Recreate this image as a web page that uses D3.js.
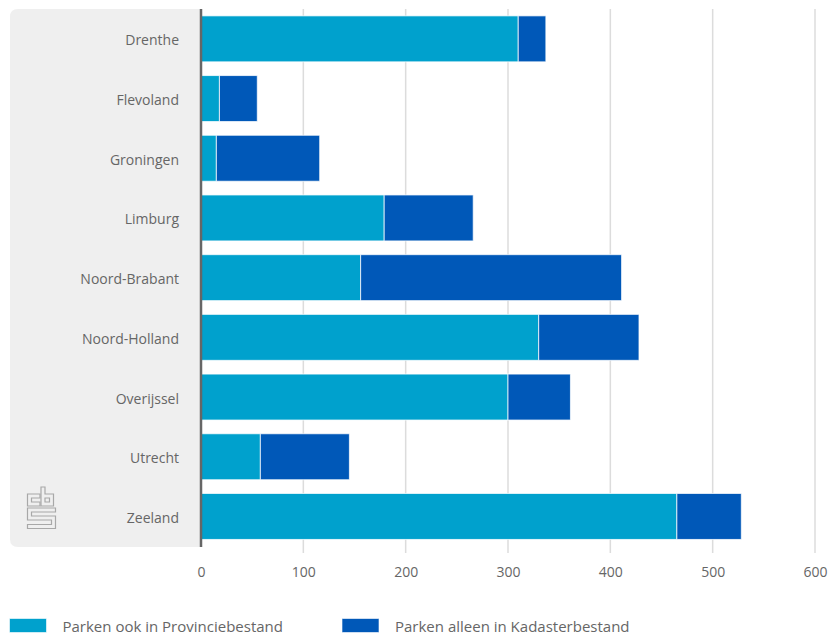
<!DOCTYPE html>
<html>
<head>
<meta charset="utf-8">
<script src="https://cdn.jsdelivr.net/npm/d3@7"></script>
<style>
  html, body { margin: 0; padding: 0; background: #fff; }
  svg { display: block; font-family: "Open Sans", "Noto Sans", sans-serif; }
</style>
</head>
<body>
<svg id="chart" width="828" height="637"></svg>
<script>
const provinces = ["Drenthe", "Flevoland", "Groningen", "Limburg", "Noord-Brabant", "Noord-Holland", "Overijssel", "Utrecht", "Zeeland"];
const provincieValues = [310, 18, 15, 179, 156, 330, 300, 58, 465];
const kadasterValues = [27, 37, 101, 87, 255, 98, 61, 87, 63];
const seriesNames = ["Parken ook in Provinciebestand", "Parken alleen in Kadasterbestand"];
const xTicks = [0, 100, 200, 300, 400, 500, 600];

const colors = ["#00a1cd", "#0058b8"];
const svg = d3.select("#chart");

const plot = { left: 201, right: 815, top: 9, bottom: 546.3 };
const x = d3.scaleLinear().domain([0, 600]).range([plot.left, plot.right]);
const y = d3.scaleBand().domain(provinces).range([plot.top, plot.bottom])
  .paddingInner(0.23).paddingOuter(0.115);

// grey label panel
svg.append("path")
  .attr("d", (() => {
    const x0 = 10, x1 = plot.left, y0 = plot.top, y1 = 547, r = 8;
    return `M${x1},${y0} L${x0 + r},${y0} Q${x0},${y0} ${x0},${y0 + r} L${x0},${y1 - r} Q${x0},${y1} ${x0 + r},${y1} L${x1},${y1} Z`;
  })())
  .attr("fill", "#efefef");

// gridlines
svg.append("g").selectAll("line").data(xTicks.slice(1)).join("line")
  .attr("x1", d => x(d)).attr("x2", d => x(d))
  .attr("y1", plot.top).attr("y2", 553)
  .attr("stroke", "#dcdcdc").attr("stroke-width", 1.5);

// x axis labels
const xAxis = d3.axisBottom(x).tickValues(xTicks).tickSize(0).tickPadding(0);
const gx = svg.append("g").attr("transform", `translate(0,${567})`).call(xAxis);
gx.select(".domain").remove();
gx.selectAll("text").attr("fill", "#666").attr("font-size", "14px")
  .attr("font-family", "Open Sans, sans-serif").attr("dy", "0.71em");

// stacked bars
const rows = provinces.map((p, i) => ({ p, a: provincieValues[i], b: kadasterValues[i] }));
const stack = d3.stack().keys(["a", "b"])(rows);
svg.append("g").selectAll("g").data(stack).join("g")
  .attr("fill", (d, i) => colors[i])
  .selectAll("rect").data(d => d).join("rect")
  .attr("x", d => x(d[0]))
  .attr("y", d => y(d.data.p))
  .attr("width", d => x(d[1]) - x(d[0]))
  .attr("height", y.bandwidth())
  .attr("stroke", "rgba(255,255,255,0.75)").attr("stroke-width", 1);

// y axis line
svg.append("line")
  .attr("x1", plot.left).attr("x2", plot.left)
  .attr("y1", plot.top).attr("y2", 547)
  .attr("stroke", "#666").attr("stroke-width", 2.5);

// category labels
const yAxis = d3.axisLeft(y).tickSize(0).tickPadding(22);
const gy = svg.append("g").attr("transform", `translate(${plot.left},2)`).call(yAxis);
gy.select(".domain").remove();
gy.selectAll("text").attr("fill", "#666").attr("font-size", "14px")
  .attr("font-family", "Open Sans, sans-serif");

// CBS logo (outlined letters)
const logo = svg.append("g").attr("fill", "none").attr("stroke", "#a8a8a8").attr("stroke-width", 1.2);
logo.append("path").attr("d",
  "M27.5,494 H40 V498 H31.5 V502 H40 V506 H27.5 Z");
logo.append("path").attr("d",
  "M41,487 H45 V494 H53.5 V506 H41 Z M45,498 V502 H49.5 V498 Z");
logo.append("path").attr("d",
  "M27.5,508 H55.5 V512 H31.5 V516 H55.5 V528.5 H27.5 V524.5 H51.5 V520 H27.5 Z");

// legend
const legend = svg.append("g");
const legendX = [9.5, 342];
seriesNames.forEach((name, i) => {
  legend.append("rect").attr("x", legendX[i]).attr("y", 618.5).attr("width", 37).attr("height", 14)
    .attr("fill", colors[i]).attr("stroke", "rgba(255,255,255,0.6)");
  legend.append("text").attr("x", legendX[i] + 53).attr("y", 631.5)
    .attr("fill", "#666").attr("font-size", "15px").text(name);
});
</script>
</body>
</html>
